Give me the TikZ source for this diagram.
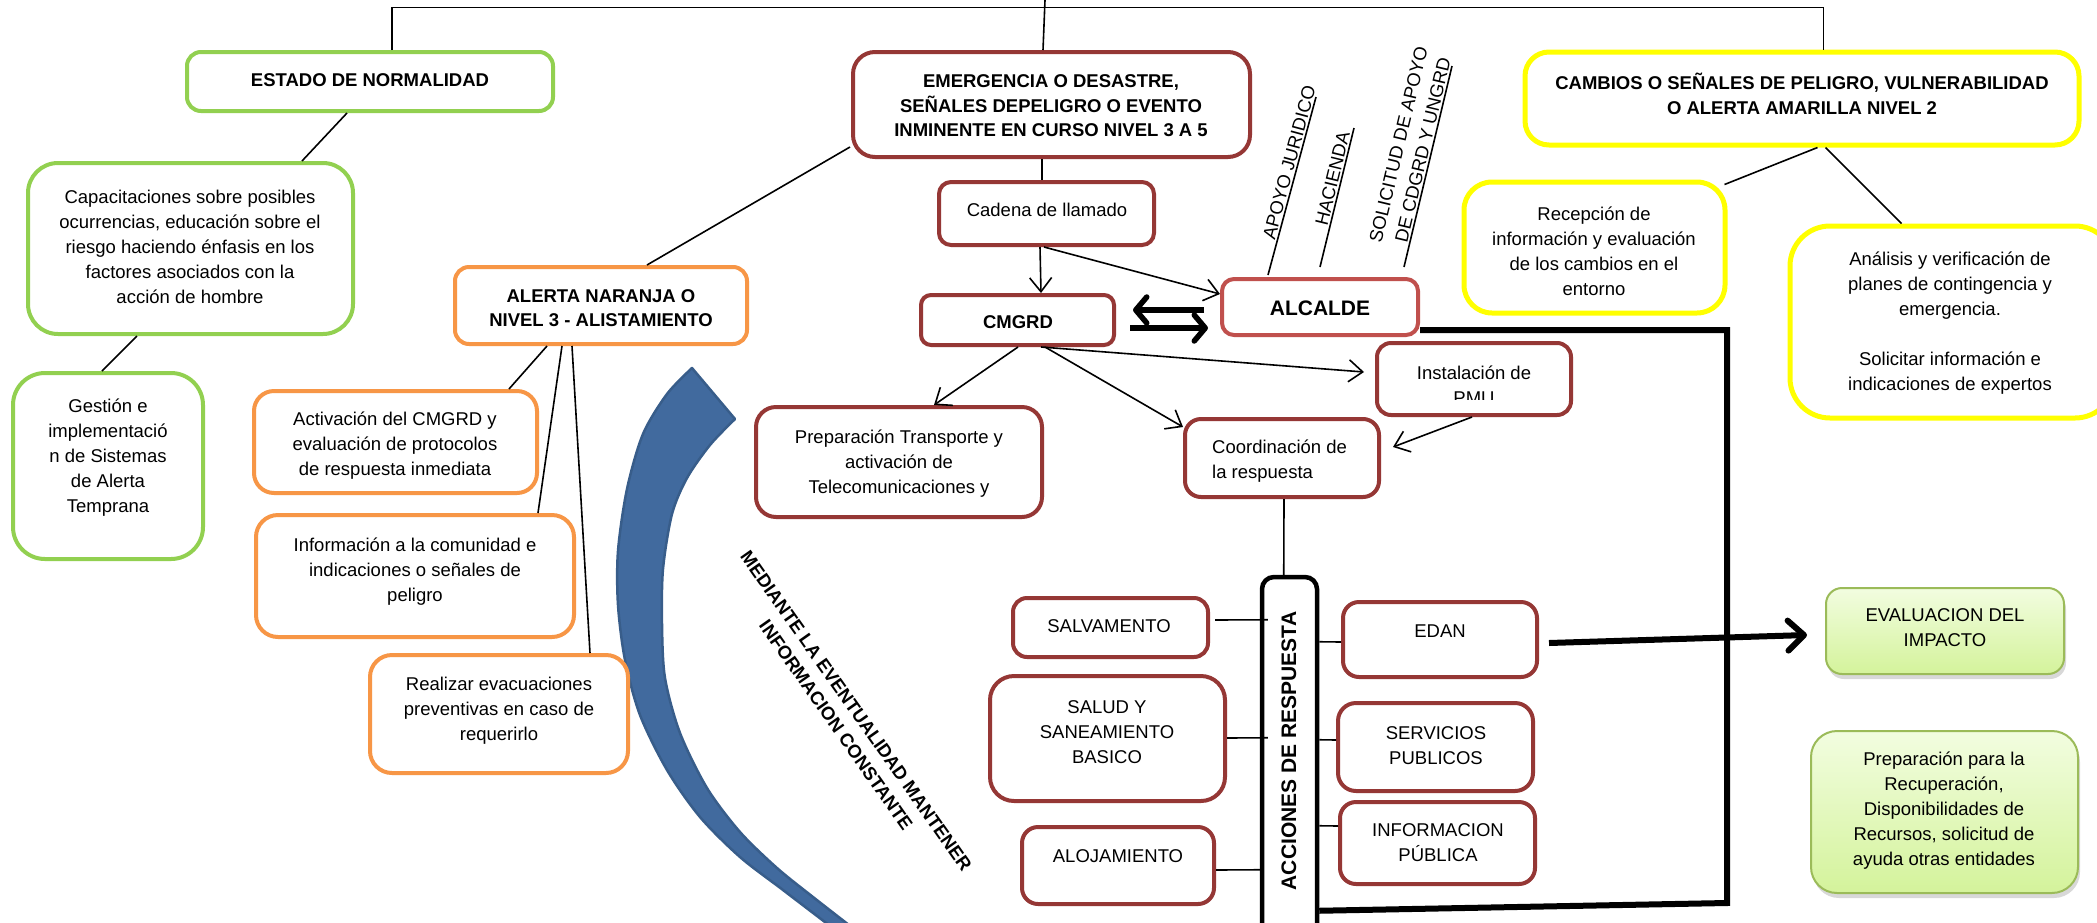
\documentclass[tikz,border=0pt]{standalone}
\usepackage{fontspec}
\setmainfont{Liberation Sans}
\usetikzlibrary{calc,fit,arrows.meta,shadows}
\definecolor{cgreen}{RGB}{146,208,80}
\definecolor{corange}{RGB}{247,150,70}
\definecolor{cdred}{RGB}{149,55,53}
\definecolor{cred}{RGB}{192,80,77}
\definecolor{cyel}{RGB}{255,255,0}
\definecolor{cgbord}{RGB}{155,187,89}
\definecolor{cgtop}{RGB}{242,253,224}
\definecolor{cgbot}{RGB}{212,243,155}
\definecolor{cblue}{RGB}{65,106,158}
\definecolor{cbluebd}{RGB}{56,93,138}
\newcommand\fsn{\fontsize{18.5}{25}\selectfont}
\newcommand\fsb{\fontsize{18.5}{24.5}\selectfont\bfseries}
\newcommand\fsbig{\fontsize{21}{25}\selectfont\bfseries}
\begin{document}
\begin{tikzpicture}[x=1pt,y=-1pt,
  box/.style={draw=#1, line width=4pt, inner sep=0pt, fill=white},
  ybox/.style={draw=cyel, line width=5pt, inner sep=0pt, fill=white},
  gbox/.style={draw=cgbord, line width=2pt, inner sep=0pt, top color=cgtop, bottom color=cgbot,
     drop shadow={shadow xshift=2pt, shadow yshift=-5pt, opacity=0.3}},
  tn/.style={font=\fsn, align=center, inner sep=0pt},
  tbd/.style={font=\fsb, align=center, inner sep=0pt},
  conn/.style={line width=1.6pt, black},
  arr/.style={conn, -{Straight Barb[length=14pt,width=22pt]}},
  fatarr/.style={line width=5.5pt, black, -{Straight Barb[length=11pt,width=26pt,round]}},
  lbl/.style={font=\fsn, align=center, sloped, above, inner sep=1.5pt}
]
\fill[white] (0,0) rectangle (2097,922);
\useasboundingbox (0,0) rectangle (2097,922);
\clip (0,0) rectangle (2097,922);

% blue curved arrow
\fill[cblue, draw=cbluebd, line width=2.5pt, line join=round] (692,368) -- (735,419)
  -- plot[smooth] coordinates {(735,419) (710,445) (687,478) (672,514) (663,569) (662,624) (665,678) (680,733) (707,788) (740,832) (777,868) (813,897) (858,932)}
  -- (838,932)
  -- plot[smooth] coordinates {(838,932) (783,890) (740,857) (700,817) (667,770) (640,715) (625,660) (618,605) (618,551) (627,489) (643,434) (667,394) (692,368)}
  -- cycle;

% green column
\node[box=cgreen, rounded corners=14pt, fit={(187,52) (553,111)}] (estado) {};
\node[tbd] (estado-t) at (370,80) {ESTADO DE NORMALIDAD};
\node[box=cgreen, rounded corners=30pt, fit={(28,163) (353,334)}] (capac) {};
\node[tn] (capac-t) at (190,247) {Capacitaciones sobre posibles\\ocurrencias, educación sobre el\\riesgo haciendo énfasis en los\\factores asociados con la\\acción de hombre};
\node[box=cgreen, rounded corners=32pt, fit={(13,373) (203,559)}] (gestion) {};
\node[tn] (gestion-t) at (108,458) {Gestión e\\implementació\\n de Sistemas\\de Alerta\\Temprana};

% orange column
\node[box=corange, rounded corners=14pt, fit={(455,267) (747,344)}] (alerta) {};
\node[tbd] (alerta-t) at (601,308) {ALERTA NARANJA O\\NIVEL 3 - ALISTAMIENTO};
\node[box=corange, rounded corners=20pt, fit={(254,391) (537,493)}] (activ) {};
\node[tn] (activ-t) at (395,446) {Activación del CMGRD y\\evaluación de protocolos\\de respuesta inmediata};
\node[box=corange, rounded corners=22pt, fit={(256,515) (574,637)}] (info) {};
\node[tn] (info-t) at (415,572) {Información a la comunidad e\\indicaciones o señales de\\peligro};
\node[box=corange, rounded corners=22pt, fit={(370,655) (628,773)}] (realiz) {};
\node[tn] (realiz-t) at (499,711) {Realizar evacuaciones\\preventivas en caso de\\requerirlo};

% red centre
\node[box=cdred, rounded corners=22pt, fit={(853,52) (1250,157)}] (emerg) {};
\node[tbd] (emerg-t) at (1051,106) {EMERGENCIA O DESASTRE,\\SEÑALES DEPELIGRO O EVENTO\\INMINENTE EN CURSO NIVEL 3 A 5};
\node[box=cdred, rounded corners=12pt, fit={(939,182) (1154,245)}] (cadena) {};
\node[tn] (cadena-t) at (1047,210) {Cadena de llamado};
\node[box=cdred, rounded corners=10pt, fit={(921,295) (1114,345)}] (cmgrd) {};
\node[tbd] (cmgrd-t) at (1018,322) {CMGRD};
\node[box=cred, rounded corners=12pt, fit={(1222,279) (1418,335)}] (alcalde) {};
\node[font=\fsbig, inner sep=0pt] (alcalde-t) at (1320,308) {ALCALDE};
\node[box=cdred, rounded corners=14pt, fit={(1377,343) (1571,415)}] (instal) {};
\begin{scope}
\clip (1377,343) rectangle (1571,399);
\node[tn] (instal-t) at (1474,385) {Instalación de\\PMU};
\end{scope}
\node[box=cdred, rounded corners=20pt, fit={(756,407) (1042,517)}] (prep) {};
\node[tn] (prep-t) at (899,464) {Preparación Transporte y\\activación de\\Telecomunicaciones y};
\node[box=cdred, rounded corners=16pt, fit={(1185,419) (1379,497)}] (coord) {};
\node[tn, align=left, anchor=west] (coord-t) at (1212,461) {Coordinación de\\la respuesta};

% acciones de respuesta
\node[draw=black, line width=4.5pt, inner sep=0pt, fill=white, rounded corners=12pt, fit={(1262,577) (1317,945)}] (acc) {};
\node[font=\fsbig, rotate=90, inner sep=0pt] (acc-t) at (1289,751) {ACCIONES DE RESPUESTA};
\node[box=cdred, rounded corners=14pt, fit={(1013,598) (1208,657)}] (salv) {};
\node[tn] (salv-t) at (1109,626) {SALVAMENTO};
\node[box=cdred, rounded corners=24pt, fit={(990,676) (1225,801)}] (salud) {};
\node[tn] (salud-t) at (1107,732) {SALUD Y\\SANEAMIENTO\\BASICO};
\node[box=cdred, rounded corners=16pt, fit={(1022,827) (1214,904)}] (aloj) {};
\node[tn] (aloj-t) at (1118,856) {ALOJAMIENTO};
\node[box=cdred, rounded corners=16pt, fit={(1343,602) (1537,677)}] (edan) {};
\node[tn] (edan-t) at (1440,631) {EDAN};
\node[box=cdred, rounded corners=18pt, fit={(1338,703) (1533,791)}] (serv) {};
\node[tn] (serv-t) at (1436,746) {SERVICIOS\\PUBLICOS};
\node[box=cdred, rounded corners=16pt, fit={(1340,802) (1535,884)}] (infop) {};
\node[tn] (infop-t) at (1438,843) {INFORMACION\\PÚBLICA};

% green right
\node[gbox, rounded corners=16pt, fit={(1826,588) (2064,674)}] (evalua) {};
\node[tn] (evalua-t) at (1945,628) {EVALUACION DEL\\IMPACTO};
\node[gbox, rounded corners=26pt, fit={(1811,731) (2078,893)}] (recup) {};
\node[tn] (recup-t) at (1944,811) {Preparación para la\\Recuperación,\\Disponibilidades de\\Recursos, solicitud de\\ayuda otras entidades};

% yellow
\node[ybox, rounded corners=24pt, fit={(1525,52) (2079,145)}] (cambios) {};
\node[tbd] (cambios-t) at (1802,94) {CAMBIOS O SEÑALES DE PELIGRO, VULNERABILIDAD\\O ALERTA AMARILLA NIVEL 2};
\node[ybox, rounded corners=28pt, fit={(1464,182) (1725,313)}] (recep) {};
\node[tn] (recep-t) at (1594,251) {Recepción de\\información y evaluación\\de los cambios en el\\entorno};
\node[ybox, rounded corners=40pt, fit={(1790,226) (2115,418)}] (analisis) {};
\node[tn] (analisis-t) at (1950,323) {Análisis y verificación de\\planes de contingencia y\\emergencia.\\[25pt]Solicitar información e\\indicaciones de expertos};

% top connectors
\coordinate (topc) at (1045,0);
\draw[conn] ($(estado.north west)+(207,0)$) |- ($(cambios.north west)+(301,-42)$) -- ($(cambios.north west)+(301,0)$);
\draw[conn] ($(emerg.north west)+(192,0)$) -- (topc);

% green links
\draw[conn] ($(estado.south west)+(162,0)$) -- ($(capac.north west)+(276,0)$);
\draw[conn] ($(capac.south west)+(111,0)$) -- ($(gestion.north west)+(91,0)$);

% orange links
\draw[conn] ($(emerg.south west)+(-1,-12)$) -- ($(alerta.north west)+(194,0)$);
\draw[conn] ($(alerta.south west)+(94,0)$) -- ($(activ.north west)+(257,0)$);
\draw[conn] ($(alerta.south west)+(109,0)$) -- ($(info.north west)+(284,0)$);
\draw[conn] ($(alerta.south west)+(119,0)$) -- ($(realiz.north west)+(222,0)$);

% red links
\draw[conn] ($(emerg.south west)+(191,0)$) -- ($(cadena.north west)+(105,0)$);
\draw[arr] ($(cadena.south west)+(103,0)$) -- ($(cmgrd.north west)+(122,0)$);
\draw[arr] ($(cadena.south west)+(107,0)$) -- ($(alcalde.north west)+(0,17)$);
\draw[fatarr] ($(alcalde.north west)+(-16,33)$) -- ($(cmgrd.north east)+(17,17)$);
\draw[fatarr] ($(cmgrd.north east)+(14,35)$) -- ($(alcalde.north west)+(-12,51)$);
\draw[arr] ($(cmgrd.south west)+(99,0)$) -- ($(prep.north west)+(180,0)$);
\draw[arr] ($(cmgrd.south west)+(126,0)$) -- ($(coord.north west)+(0,10)$);
\draw[arr] ($(cmgrd.south west)+(122,0)$) -- ($(instal.north west)+(-11,31)$);
\draw[arr] ($(instal.south west)+(97,0)$) -- ($(coord.north east)+(12,30)$);
\draw[conn] ($(coord.south west)+(101,0)$) -- ($(acc.north west)+(24,0)$);
\draw[line width=6pt, line join=miter] ($(alcalde.north east)+(0,53)$) -- ++(307,0) -- ++(0,573) -- ($(acc.north east)+(0,336)$);

% response links
\draw[conn] ($(salv.north east)+(5,24)$) -- ($(acc.north west)+(8,45)$);
\draw[conn] ($(salud.north east)+(0,64)$) -- ($(acc.north west)+(8,163)$);
\draw[conn] ($(aloj.north east)+(0,45)$) -- ($(acc.north west)+(0,295)$);
\draw[conn] ($(acc.north east)+(0,67)$) -- ($(edan.north west)+(0,42)$);
\draw[conn] ($(acc.north east)+(0,165)$) -- ($(serv.north west)+(0,39)$);
\draw[conn] ($(acc.north east)+(0,251)$) -- ($(infop.north west)+(0,26)$);
\draw[line width=6pt, -{Straight Barb[length=16pt,width=30pt,round]}] ($(edan.north east)+(10,43)$) -- ($(evalua.north west)+(-18,48)$);

% yellow links
\draw[conn] ($(cambios.south west)+(295,0)$) -- ($(recep.north east)+(-3,5)$);
\draw[conn] ($(cambios.south west)+(303,0)$) -- ($(analisis.north west)+(114,0)$);

% sloped labels above alcalde
\coordinate (ajtop) at (1316,97);
\coordinate (habot) at (1320,267);
\coordinate (hatop) at (1354,128);
\coordinate (sobot) at (1404,267);
\coordinate (sotop) at (1452,66);
\draw[conn] ($(alcalde.north west)+(48,-2)$) -- node[lbl, pos=0.62] (aj-t) {APOYO JURIDICO} (ajtop);
\draw[conn] (habot) -- node[lbl, pos=0.62] (ha-t) {HACIENDA} (hatop);
\draw[conn] (sobot) -- node[lbl, pos=0.57] (so-t) {SOLICITUD DE APOYO\\DE CDGRD Y UNGRD} (sotop);

% text along blue arrow
\node[font=\fsb, align=center, rotate=-54.8, inner sep=0pt] (med) at (846,718) {MEDIANTE LA EVENTUALIDAD MANTENER\\INFORMACION CONSTANTE};
\end{tikzpicture}
\end{document}
